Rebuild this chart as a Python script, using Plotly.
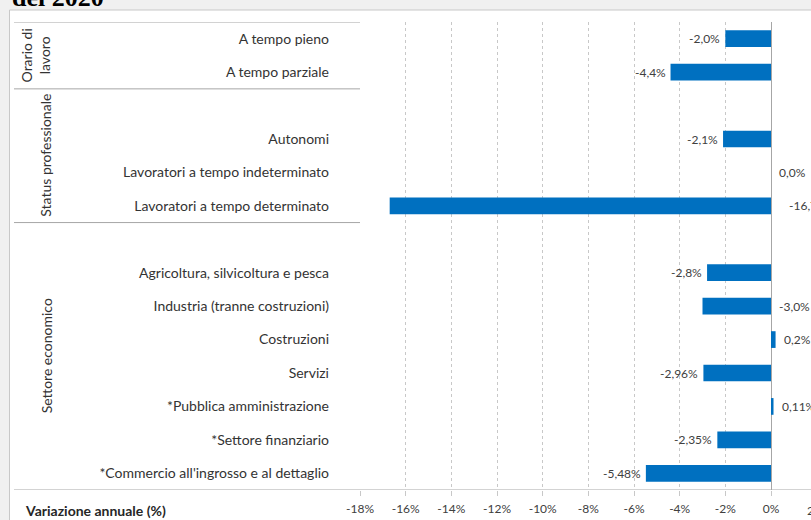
import plotly.graph_objects as go

# ---------------- data ----------------
categories = [
    "A tempo pieno",
    "A tempo parziale",
    "",
    "Autonomi",
    "Lavoratori a tempo indeterminato",
    "Lavoratori a tempo determinato",
    "",
    "Agricoltura, silvicoltura e pesca",
    "Industria (tranne costruzioni)",
    "Costruzioni",
    "Servizi",
    "*Pubblica amministrazione",
    "*Settore finanziario",
    "*Commercio all'ingrosso e al dettaglio",
]
values = [-2.0, -4.4, None, -2.1, 0.0, -16.7, None, -2.8, -3.0, 0.2, -2.96, 0.11, -2.35, -5.48]
value_labels = ["-2,0%", "-4,4%", "", "-2,1%", "0,0%", "-16,7%", "",
                "-2,8%", "-3,0%", "0,2%", "-2,96%", "0,11%", "-2,35%", "-5,48%"]
label_side = ["left", "left", None, "left", "right", "right", None,
              "left", "right", "right", "left", "right", "left", "left"]

group_names = ["Orario di<br>lavoro", "Status professionale", "Settore economico"]
group_first = [0, 2, 6]
group_last = [1, 5, 13]

tick_values = [-18, -16, -14, -12, -10, -8, -6, -4, -2, 0]
tick_labels = ["-18%", "-16%", "-14%", "-12%", "-10%", "-8%", "-6%", "-4%", "-2%", "0%"]

axis_title = "Variazione annuale (%)"
chart_title = "del 2020"

# ---------------- layout geometry ----------------
W, H = 811, 520
L, R, T, B = 360, 0, 22, 30


def px_x(p):
    return (p - L) / (W - L - R)


def px_y(p):
    return (H - B - p) / (H - T - B)


FONT = "Lato, 'Open Sans', sans-serif"
TXT = "#333333"
BAR = "#0070C0"
LINE = "#a6a6a6"
extra_label_shift = {5: 10}

rows = list(range(len(categories)))

fig = go.Figure()
fig.add_trace(go.Bar(
    x=values,
    y=rows,
    orientation="h",
    marker=dict(color=BAR, line=dict(width=0)),
    width=0.5,
    hoverinfo="skip",
    showlegend=False,
))

shapes = []
# outer grey frame (window background)
shapes.append(dict(type="rect", xref="paper", yref="paper",
                   x0=px_x(0), x1=px_x(W), y0=px_y(10), y1=px_y(0),
                   fillcolor="#f0f0f0", line=dict(width=0), layer="below"))
shapes.append(dict(type="rect", xref="paper", yref="paper",
                   x0=px_x(0), x1=px_x(9.5), y0=px_y(H), y1=px_y(10),
                   fillcolor="#f0f0f0", line=dict(width=0), layer="below"))
shapes.append(dict(type="line", xref="paper", yref="paper",
                   x0=px_x(9.5), x1=px_x(W), y0=px_y(10), y1=px_y(10),
                   line=dict(color="#c8c8c8", width=1)))
shapes.append(dict(type="line", xref="paper", yref="paper",
                   x0=px_x(9.5), x1=px_x(9.5), y0=px_y(H), y1=px_y(10),
                   line=dict(color="#c8c8c8", width=1)))

# table separators (between groups)
sep_rows = [group_first[0] - 0.5] + [g + 0.5 for g in group_last[:-1]]
for yv in sep_rows:
    shapes.append(dict(type="line", xref="paper", yref="y",
                       x0=px_x(14), x1=0, y0=yv, y1=yv,
                       line=dict(color=LINE, width=1)))
# bottom line across the whole chart
shapes.append(dict(type="line", xref="paper", yref="y",
                   x0=px_x(14), x1=1, y0=group_last[-1] + 0.5, y1=group_last[-1] + 0.5,
                   line=dict(color=LINE, width=1)))

annotations = []
# value labels
for i, (v, lab, side) in enumerate(zip(values, value_labels, label_side)):
    if v is None or side is None:
        continue
    if side == "left":
        annotations.append(dict(x=v, y=i, xref="x", yref="y", text=lab,
                                showarrow=False, xanchor="right", xshift=-3,
                                font=dict(family=FONT, size=12, color="#404040")))
    else:
        annotations.append(dict(x=max(v, 0), y=i, xref="x", yref="y", text=lab,
                                showarrow=False, xanchor="left",
                                xshift=6 + extra_label_shift.get(i, 0),
                                font=dict(family=FONT, size=12, color="#404040")))

# group labels (rotated)
for name, a, b in zip(group_names, group_first, group_last):
    annotations.append(dict(x=px_x(46 if "<br>" not in name else 35), y=(a + b) / 2,
                            xref="paper", yref="y", text=name, showarrow=False,
                            textangle=-90, xanchor="center", yanchor="middle",
                            font=dict(family=FONT, size=14, color=TXT)))

# axis title (bottom left)
annotations.append(dict(x=px_x(23), y=px_y(510), xref="paper", yref="paper",
                        text="<b>" + axis_title + "</b>", showarrow=False,
                        xanchor="left", yanchor="middle",
                        font=dict(family=FONT, size=14, color="#262626")))

# partially visible last tick label
annotations.append(dict(x=px_x(805), y=px_y(510), xref="paper", yref="paper",
                        text="2%", showarrow=False, xanchor="left", yanchor="middle",
                        font=dict(family=FONT, size=12, color="#404040")))

# cropped title
annotations.append(dict(x=px_x(10), y=px_y(14), xref="paper", yref="paper",
                        text="<b>" + chart_title + "</b>", showarrow=False,
                        xanchor="left", yanchor="bottom",
                        font=dict(family="'Liberation Serif', 'Times New Roman', serif",
                                  size=26, color="#000000")))

fig.update_layout(
    width=W, height=H,
    margin=dict(l=L, r=R, t=T, b=B, pad=0),
    paper_bgcolor="#ffffff",
    plot_bgcolor="#ffffff",
    shapes=shapes,
    annotations=annotations,
    showlegend=False,
    xaxis=dict(
        range=[-18, 18 * (W - L - R) / (771 - L) - 18],
        tickvals=tick_values,
        ticktext=tick_labels,
        showgrid=True,
        gridcolor="#c8c8c8",
        griddash="3px,3px",
        gridwidth=1,
        zeroline=True,
        zerolinecolor=LINE,
        zerolinewidth=1,
        showline=False,
        ticks="outside",
        ticklen=5,
        tickcolor="#c8c8c8",
        ticklabelstandoff=3,
        tickfont=dict(family=FONT, size=12, color="#404040"),
        fixedrange=True,
    ),
    yaxis=dict(
        range=[len(categories) - 0.5, -0.5],
        tickvals=rows,
        ticktext=categories,
        showgrid=False,
        zeroline=False,
        showline=False,
        ticks="",
        ticklabelstandoff=30,
        tickfont=dict(family=FONT, size=14, color=TXT),
        fixedrange=True,
    ),
)

fig.write_html(
    "out.html",
    config={"displayModeBar": False},
    post_script="document.body.style.margin='0';document.body.style.overflow='hidden';",
)
